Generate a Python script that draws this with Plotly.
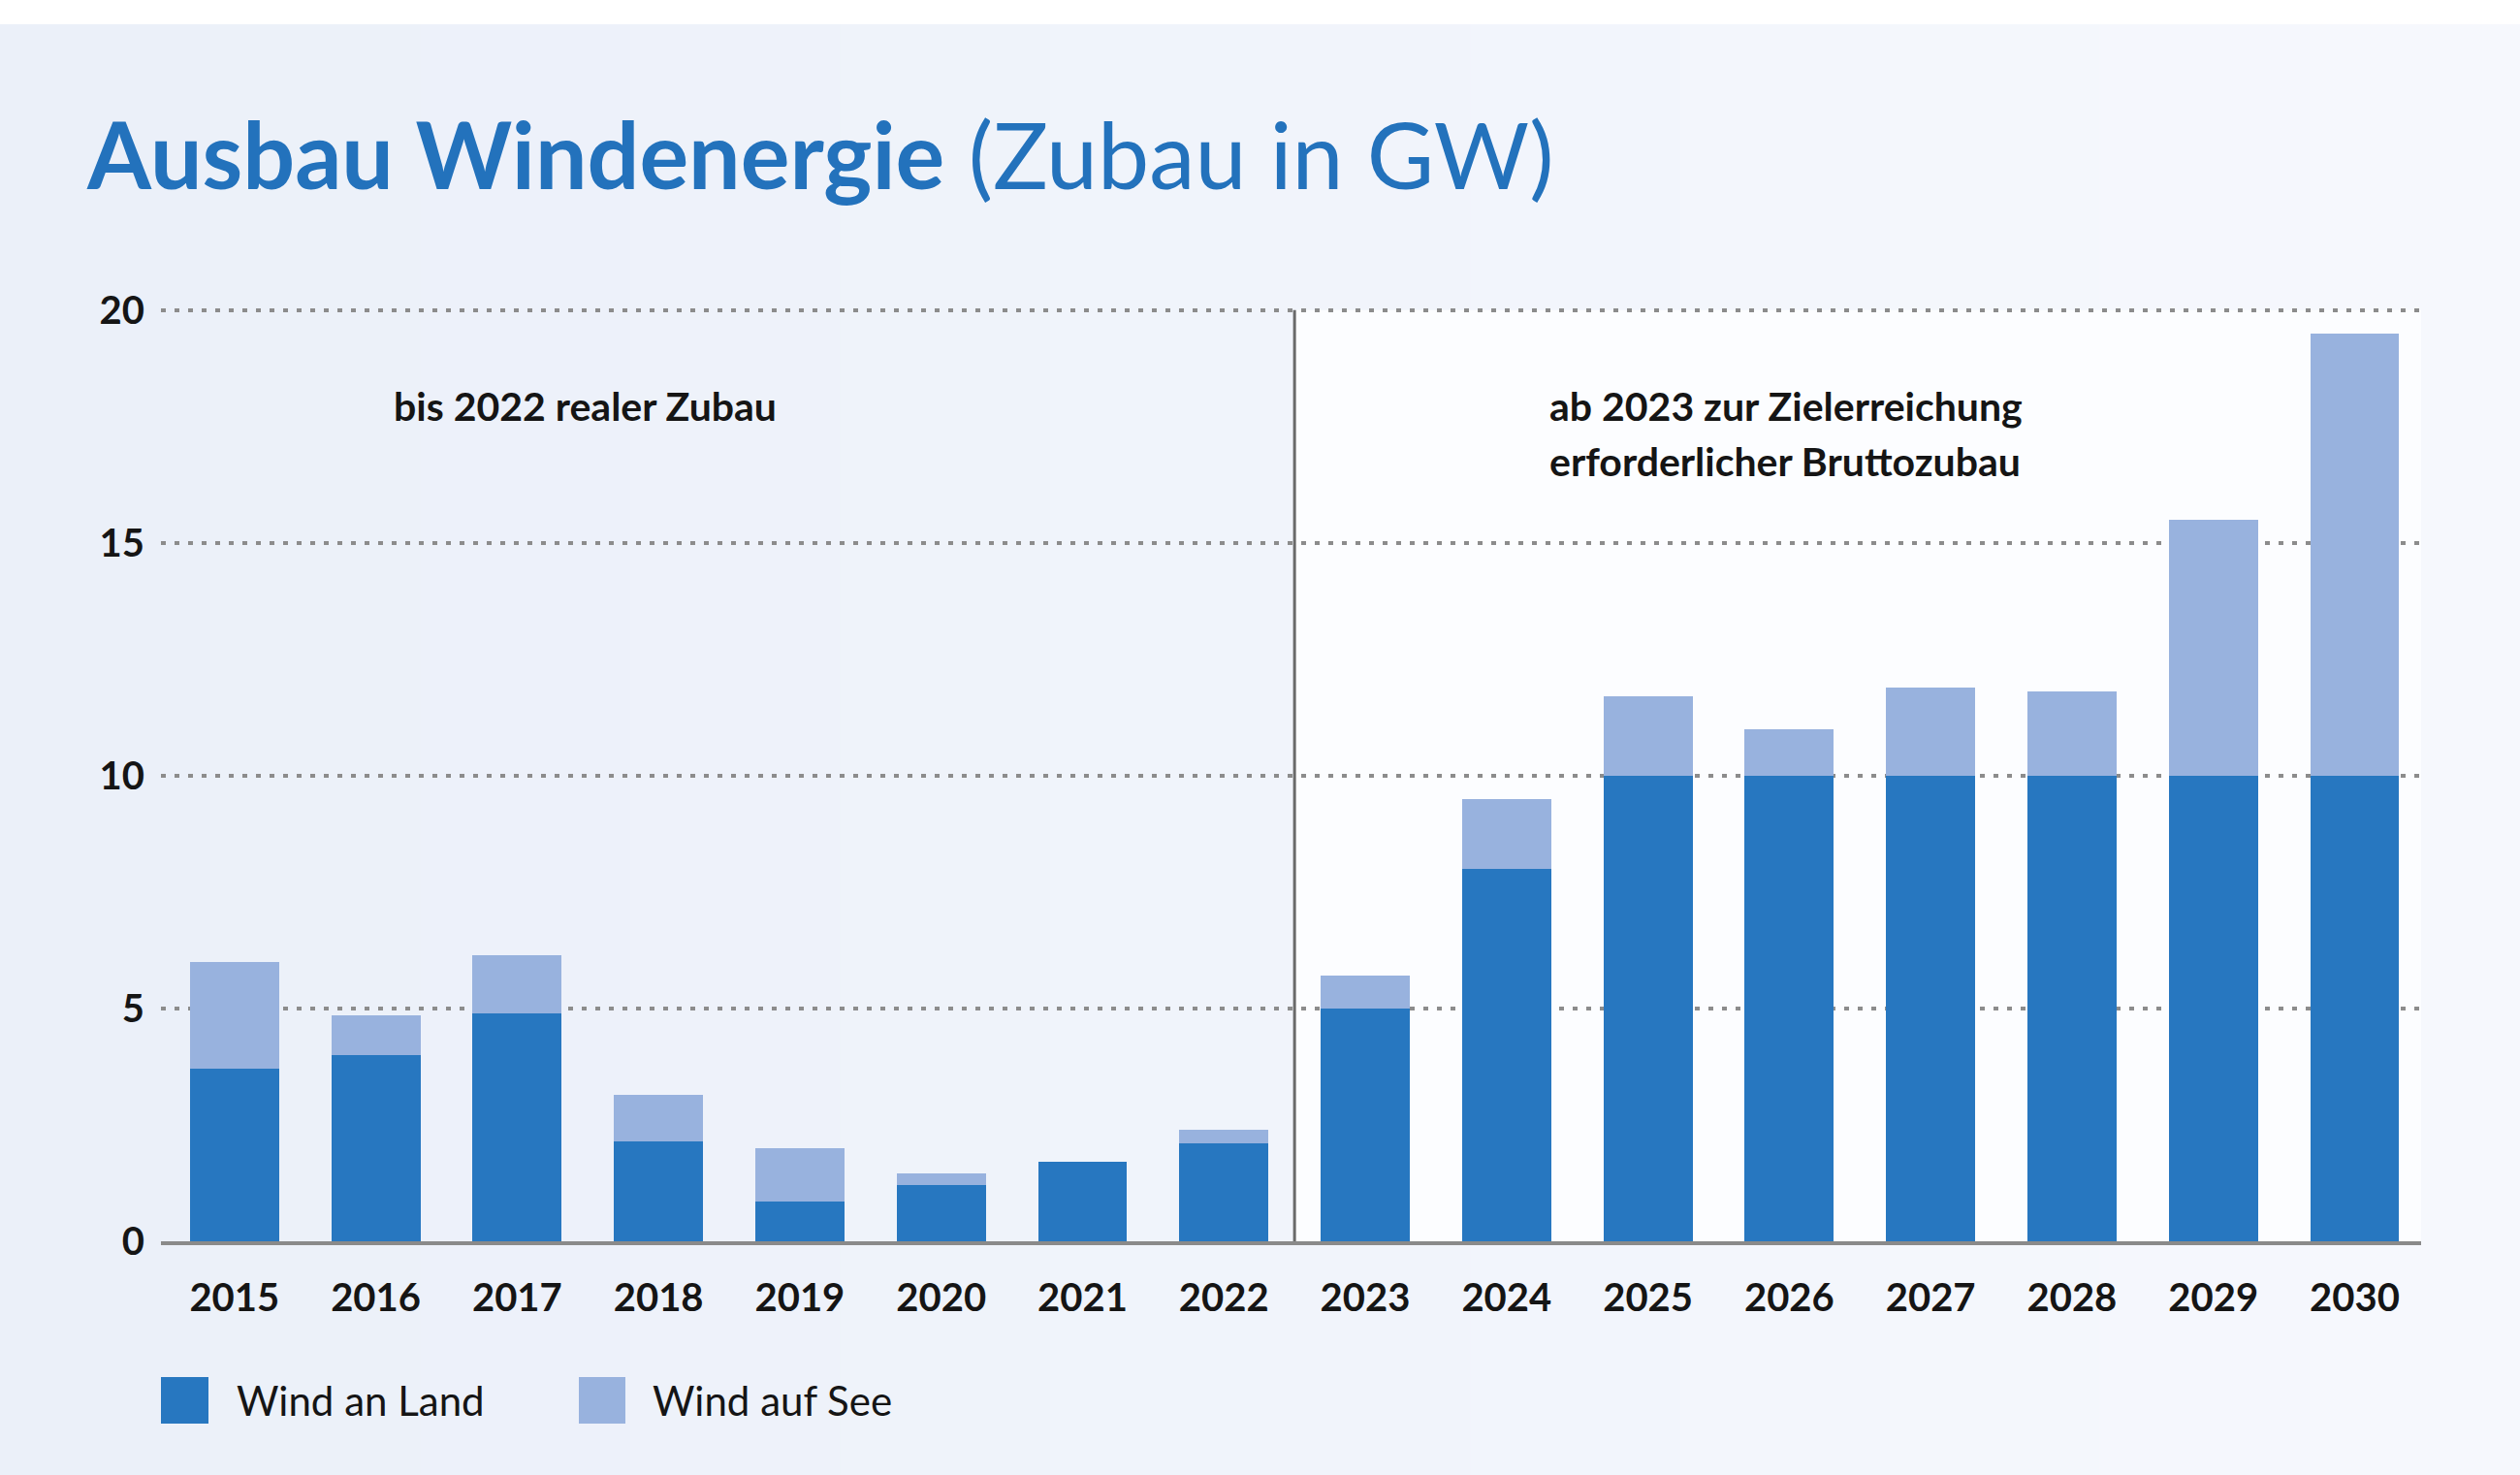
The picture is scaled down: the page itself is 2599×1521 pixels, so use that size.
import plotly.graph_objects as go

# ---- data ----
years = list(range(2015, 2031))
wind_land = [3.7, 4.0, 4.9, 2.15, 0.85, 1.2, 1.7, 2.1, 5.0, 8.0, 10.0, 10.0, 10.0, 10.0, 10.0, 10.0]
wind_see = [2.3, 0.85, 1.25, 1.0, 1.15, 0.25, 0.0, 0.3, 0.7, 1.5, 1.7, 1.0, 1.9, 1.8, 5.5, 9.5]
series_names = ["Wind an Land", "Wind auf See"]
y_ticks = [0, 5, 10, 15, 20]
title_bold = "Ausbau Windenergie"
title_rest = " (Zubau in GW)"
note_left = "bis 2022 realer Zubau"
note_right = ["ab 2023 zur Zielerreichung", "erforderlicher Bruttozubau"]

# ---- style ----
W, H = 2599, 1521
ML, MR, MT, MB = 166, 102, 315, 241
PW, PH = W - ML - MR, H - MT - MB
C_LAND = "#2777C0"
C_SEE = "#98B2DE"
C_TITLE = "#2372BC"
C_TEXT = "#151515"
FONT = "Lato"

def px_to_paper_x(px):
    return (px - ML) / PW

def px_to_paper_y(py):
    return (H - MB - py) / PH

fig = go.Figure()
fig.add_trace(go.Bar(x=years, y=wind_land, name=series_names[0],
                     marker=dict(color=C_LAND, line=dict(width=0)), showlegend=False))
fig.add_trace(go.Bar(x=years, y=wind_see, name=series_names[1],
                     marker=dict(color=C_SEE, line=dict(width=0)), showlegend=False))

shapes = []
# background gradient bands (left slightly darker than right)
n = 12
c0 = (235, 240, 249)
c1 = (246, 248, 253)
for i in range(n):
    t = i / (n - 1)
    col = "rgb(%d,%d,%d)" % tuple(round(a + (b - a) * t) for a, b in zip(c0, c1))
    shapes.append(dict(type="rect", xref="paper", yref="paper",
                       x0=px_to_paper_x(W * i / n), x1=px_to_paper_x(W * (i + 1) / n + 1),
                       y0=px_to_paper_y(H), y1=px_to_paper_y(0),
                       fillcolor=col, line=dict(width=0), layer="below"))
# white strip on top
shapes.append(dict(type="rect", xref="paper", yref="paper",
                   x0=px_to_paper_x(0), x1=px_to_paper_x(W),
                   y0=px_to_paper_y(25), y1=px_to_paper_y(0),
                   fillcolor="white", line=dict(width=0), layer="below"))
# white forecast area
shapes.append(dict(type="rect", xref="x", yref="y", x0=2022.5, x1=2030.47, y0=0, y1=20,
                   fillcolor="#FCFDFF", line=dict(width=0), layer="below"))
# divider line
shapes.append(dict(type="line", xref="x", yref="y", x0=2022.5, x1=2022.5, y0=0, y1=20,
                   line=dict(color="#6A6A6A", width=3), layer="above"))

annotations = [
    dict(text="<b>%s</b>" % note_left, x=2017.48, y=17.94, xref="x", yref="y",
         xanchor="center", yanchor="middle", showarrow=False,
         font=dict(family=FONT, size=41, color=C_TEXT)),
    dict(text="<b>%s</b>" % note_right[0], x=2024.29, y=17.94, xref="x", yref="y",
         xanchor="left", yanchor="middle", showarrow=False,
         font=dict(family=FONT, size=41, color=C_TEXT)),
    dict(text="<b>%s</b>" % note_right[1], x=2024.29, y=16.75, xref="x", yref="y",
         xanchor="left", yanchor="middle", showarrow=False,
         font=dict(family=FONT, size=41, color=C_TEXT)),
]

# custom legend (large squares)
legend_items = [(166, 215, 242, C_LAND, series_names[0]), (597, 645, 671, C_SEE, series_names[1])]
for x0, x1, tx, col, name in legend_items:
    shapes.append(dict(type="rect", xref="paper", yref="paper",
                       x0=px_to_paper_x(x0), x1=px_to_paper_x(x1),
                       y0=px_to_paper_y(1468), y1=px_to_paper_y(1420),
                       fillcolor=col, line=dict(width=0)))
    annotations.append(dict(text=name, x=px_to_paper_x(tx), y=px_to_paper_y(1444),
                            xref="paper", yref="paper", xanchor="left", yanchor="middle",
                            showarrow=False, font=dict(family=FONT, size=42, color=C_TEXT)))

fig.update_layout(
    width=W, height=H, autosize=False,
    margin=dict(l=ML, r=MR, t=MT, b=MB, pad=0),
    paper_bgcolor="#EEF2FA", plot_bgcolor="rgba(0,0,0,0)",
    barmode="stack", bargap=0.37,
    font=dict(family=FONT, color=C_TEXT),
    title=dict(text="<b>%s</b>%s" % (title_bold, title_rest),
               xref="container", yref="container", x=90 / W, xanchor="left",
               y=1 - 162 / H, yanchor="middle",
               font=dict(family=FONT, size=95, color=C_TITLE)),
    shapes=shapes, annotations=annotations,
    xaxis=dict(range=[2014.48, 2030.47], tickmode="array", tickvals=years,
               ticktext=[str(y) for y in years], showgrid=False, zeroline=False,
               showline=True, linecolor="#8A8A8A", linewidth=4,
               ticks="", ticklabelstandoff=20,
               tickfont=dict(family=FONT, size=40, color=C_TEXT, weight="bold")),
    yaxis=dict(range=[0, 20.1], tickmode="array", tickvals=y_ticks,
               ticktext=[str(v) for v in y_ticks], showgrid=True,
               gridcolor="#8C8C8C", gridwidth=4, griddash="5px,9px",
               zeroline=False, showline=False, ticks="", ticklabelstandoff=16,
               tickfont=dict(family=FONT, size=40, color=C_TEXT, weight="bold")),
)

fig.write_html("out.html", config={"displayModeBar": False},
               post_script="document.body.style.margin='0';")
